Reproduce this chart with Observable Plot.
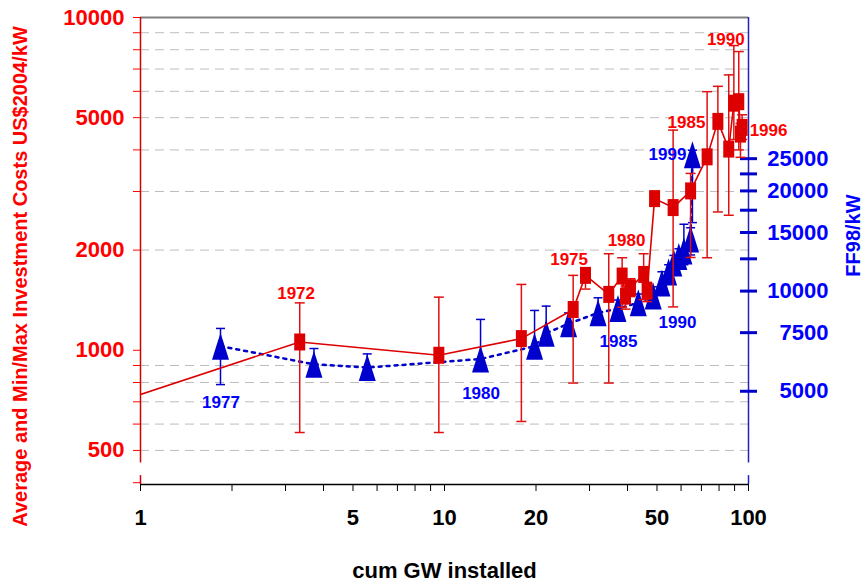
<!DOCTYPE html>
<html>
<head>
<meta charset="utf-8">
<script src="https://cdn.jsdelivr.net/npm/d3@7"></script>
<script src="https://cdn.jsdelivr.net/npm/@observablehq/plot@0.6"></script>
<style>
  body { margin: 0; background: #fff; }
  svg { font-family: "Liberation Sans", Arial, sans-serif; }
  g[aria-label$="tick label"] text { font-weight: bold; }
</style>
</head>
<body>
<div id="chart"></div>
<script>
// ---- Red series: average and min/max investment costs (US$2004/kW) ----
const redGW  = [0.6, 3.34, 9.58, 17.9, 26.5, 29.1, 34.7, 38.4, 39.4, 40.9, 45.2, 46.4, 49.1, 56.5, 64.5, 73.1, 79.3, 86.1, 89.5, 92.9, 94.1, 95.3];
const redAvg = [632, 1059, 966, 1084, 1326, 1679, 1472, 1671, 1454, 1541, 1690, 1506, 2856, 2684, 3012, 3813, 4873, 4023, 5527, 5585, 4463, 4674];
const redMin = [null, 566, 566, 611, 797, 1527, 797, 1347, 1329, 1450, 1420, 1400, 2750, 1350, 1900, 1897, 2604, 2545, 4300, 4000, 3800, 4300];
const redMax = [null, 1388, 1444, 1577, 1679, 1766, 1950, 1897, 1560, 1640, 1950, 1600, 2950, 4588, 3400, 5986, 6211, 6722, 8235, 7900, 4800, 5100];

// ---- Blue series: FF98/kW ----
const blueGW  = [1.833, 3.72, 5.57, 13.14, 19.78, 21.6, 25.6, 32.0, 37.2, 43.4, 48.6, 51.9, 54.6, 56.8, 59.0, 61.3, 64.5, 65.4];
const blueFF  = [6830, 6026, 5890, 6250, 6830, 7472, 7980, 8601, 8860, 9222, 9660, 10570, 11410, 12140, 12700, 13200, 14340, 25680];
const blueMin = [5236, 5700, 5500, 5800, 6300, 7000, 7500, 8100, 8400, 8700, 9100, 10000, 10800, 11500, 12000, 12000, 12840, 16060];
const blueMax = [7722, 6720, 6475, 8219, 8746, 9012, 8600, 9546, 9400, 9800, 10300, 11430, 12000, 12800, 13400, 15880, 15500, 26500];

// ---- Year annotations ----
const redLabelYear = ["1972", "1975", "1980", "1985", "1990", "1996"];
const redLabelGW   = [3.25, 25.7, 39.7, 62.5, 84.2, 116.4];
const redLabelVal  = [1485, 1876, 2137, 4845, 8585, 4576];
const blueLabelYear = ["1977", "1980", "1985", "1990", "1999"];
const blueLabelGW   = [1.84, 13.19, 37.36, 58.4, 54.15];
const blueLabelFF   = [4631, 4929, 7071, 8066, 25680];

// ---- Axes ticks ----
const xTicks = [1, 2, 3, 4, 5, 6, 7, 8, 9, 10, 20, 30, 40, 50, 60, 70, 80, 90, 100];
const xTickLabels = [1, 5, 10, 20, 50, 100];
const yTicks = [400, 500, 600, 700, 800, 900, 1000, 2000, 3000, 4000, 5000, 6000, 7000, 8000, 9000, 10000];
const yTickLabels = [500, 1000, 2000, 5000, 10000];
const yGrid = [500, 600, 700, 800, 900, 2000, 3000, 4000, 5000, 6000, 7000, 8000, 9000];
const rightTicksFF = [5000, 7500, 10000, 12500, 15000, 17500, 20000, 22500, 25000];
const rightTickLabels = [5000, 7500, 10000, 15000, 20000, 25000];

const xTitle = "cum GW installed";
const leftTitle = "Average and Min/Max Investment Costs US$2004/kW";
const rightTitle = "FF98/kW";

// ---- Build tables ----
const K = 6.64; // FF98 per US$2004 (right axis ratio)
const red = "#dd0000", redText = "#ff0000";
const blue = "#0000cc", blueText = "#0000ff";

const redData = redGW.map((gw, i) => ({gw, avg: redAvg[i], min: redMin[i], max: redMax[i]}));
const redErr = redData.filter(d => d.min != null);
const blueData = blueGW.map((gw, i) => ({gw, v: blueFF[i] / K, min: blueMin[i] / K, max: blueMax[i] / K}));
const redLabels = redLabelYear.map((t, i) => ({t, gw: redLabelGW[i], v: redLabelVal[i]}));
const blueLabels = blueLabelYear.map((t, i) => ({t, gw: blueLabelGW[i], v: blueLabelFF[i] / K}));

const xLabSet = new Set(xTickLabels);
const yLabSet = new Set(yTickLabels);

const squareSym = {draw(c) { c.rect(-5.5, -8.5, 11, 17); }};
const triSym = {draw(c) { c.moveTo(0, -13.5); c.lineTo(8.5, 13.5); c.lineTo(-8.5, 13.5); c.closePath(); }};
const capSym = w => ({draw(c) { c.moveTo(-w / 2, 0); c.lineTo(w / 2, 0); }});

const yMin = 395, yMax = 10000;
const axisSegments = [{y1: 458, y2: yMax}, {y1: yMin, y2: 420}];

const chart = Plot.plot({
  width: 866,
  height: 584,
  marginLeft: 140,
  marginRight: 118,
  marginTop: 17,
  marginBottom: 100,
  style: {fontFamily: "'Liberation Sans', Arial, sans-serif", background: "#fff"},
  x: {type: "log", domain: [1, 100]},
  y: {type: "log", domain: [yMin, yMax]},
  marks: [
    Plot.gridY({ticks: yGrid, stroke: "#bdbdbd", strokeOpacity: 1, strokeDasharray: "9,6", strokeWidth: 1}),
    Plot.ruleY([yMax], {stroke: "#808080", strokeWidth: 2}),
    Plot.ruleY([yMin], {stroke: "#000", strokeWidth: 1.5}),
    Plot.ruleX(axisSegments, {x: () => 1, y1: "y1", y2: "y2", stroke: "#d00000", strokeWidth: 1.5}),
    Plot.ruleX(axisSegments, {x: () => 100, y1: "y1", y2: "y2", stroke: "#2020c0", strokeWidth: 1.5}),

    Plot.axisX({ticks: xTicks, tickFormat: d => xLabSet.has(d) ? String(d) : "", tickSize: 7, tickPadding: 18,
      fontSize: 22, fontWeight: "bold", color: "#000", label: null}),
    Plot.axisY({anchor: "left", ticks: yTicks, tickFormat: d => yLabSet.has(d) ? String(d) : "", tickSize: 7, tickPadding: 9,
      fontSize: 22, fontWeight: "bold", color: redText, label: null}),

    // Right (FF98/kW) axis: crossing tick marks and right-aligned labels
    Plot.dot(rightTicksFF, {x: () => 100, y: v => v / K, symbol: capSym(17), r: 5, stroke: "#0000cc", strokeWidth: 3}),
    Plot.text(rightTickLabels, {x: () => 100, y: v => v / K, text: v => String(v), dx: 80, textAnchor: "end",
      fontSize: 22, fontWeight: "bold", fill: blueText}),

    // Blue series
    Plot.line(blueData, {x: "gw", y: "v", stroke: blue, strokeWidth: 2.5, strokeDasharray: "3,5"}),
    Plot.ruleX(blueData, {x: "gw", y1: "min", y2: "max", stroke: blue, strokeWidth: 1.5}),
    Plot.dot(blueData, {x: "gw", y: "min", symbol: capSym(9), r: 4, stroke: blue, strokeWidth: 1.5}),
    Plot.dot(blueData, {x: "gw", y: "max", symbol: capSym(9), r: 4, stroke: blue, strokeWidth: 1.5}),
    Plot.dot(blueData, {x: "gw", y: "v", symbol: triSym, r: 6, fill: blue, stroke: "none"}),

    // Red series
    Plot.line(redData, {x: "gw", y: "avg", stroke: red, strokeWidth: 1.6, clip: true}),
    Plot.ruleX(redErr, {x: "gw", y1: "min", y2: "max", stroke: "#e01010", strokeWidth: 1.5}),
    Plot.dot(redErr, {x: "gw", y: "min", symbol: capSym(10), r: 4, stroke: "#e01010", strokeWidth: 1.5}),
    Plot.dot(redErr, {x: "gw", y: "max", symbol: capSym(10), r: 4, stroke: "#e01010", strokeWidth: 1.5}),
    Plot.dot(redData, {x: "gw", y: "avg", symbol: squareSym, r: 6, fill: red, stroke: "none", clip: true}),

    // Year labels
    Plot.text(redLabels, {x: "gw", y: "v", text: "t", fill: redText, fontSize: 17, fontWeight: "bold"}),
    Plot.text(blueLabels, {x: "gw", y: "v", text: "t", fill: blueText, fontSize: 17, fontWeight: "bold"}),

    // Axis titles
    Plot.text([xTitle], {frameAnchor: "bottom", dy: 86, textAnchor: "middle", lineAnchor: "middle",
      fontSize: 22, fontWeight: "bold", fill: "#000"}),
    Plot.text([leftTitle], {frameAnchor: "left", dx: -120, dy: 25.5, rotate: -90, textAnchor: "middle", lineAnchor: "middle",
      fontSize: 20, fontWeight: "bold", fill: redText}),
    Plot.text([rightTitle], {frameAnchor: "right", dx: 105, dy: -15.5, rotate: -90, textAnchor: "middle", lineAnchor: "middle",
      fontSize: 20, fontWeight: "bold", fill: blueText})
  ]
});
document.getElementById("chart").appendChild(chart);
</script>
</body>
</html>
